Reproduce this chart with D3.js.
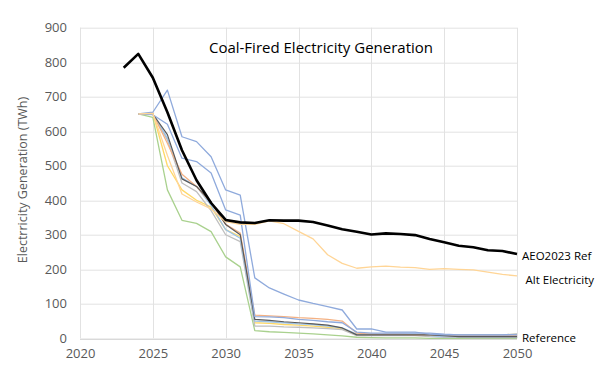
<!DOCTYPE html>
<html>
<head>
<meta charset="utf-8">
<script src="https://cdn.jsdelivr.net/npm/d3@7"></script>
<style>
  body { margin: 0; background: #fff; }
  svg { display: block; font-family: "Open Sans", "Liberation Sans", sans-serif; }
</style>
</head>
<body>
<div id="chart"></div>
<script>
// years on the x axis
const refYears = d3.range(2023, 2051);      // AEO line starts a year earlier
const scenYears = d3.range(2024, 2051);
const xTicks = [2020, 2025, 2030, 2035, 2040, 2045, 2050];
const yTicks = [0, 100, 200, 300, 400, 500, 600, 700, 800, 900];

// TWh
const aeo2023Ref = [784, 824, 755, 655, 545, 458, 392, 343, 336, 334, 342, 341, 341, 337, 327, 316, 309, 301, 304, 302, 299, 288, 278, 268, 264, 255, 253, 244];
const altElectricity = [650, 652, 530, 418, 395, 375, 338, 330, 330, 340, 332, 310, 288, 242, 217, 203, 207, 209, 206, 205, 200, 202, 200, 198, 192, 185, 181];
const blueHigh = [650, 655, 719, 584, 570, 526, 430, 415, 175, 146, 128, 111, 101, 92, 82, 27, 27, 18, 18, 18, 12, 10, 10, 10, 10, 10, 12];
const blueMid = [650, 648, 620, 522, 512, 479, 372, 357, 63, 62, 60, 55, 52, 48, 45, 18, 15, 15, 15, 15, 15, 12, 10, 10, 10, 10, 10];
const salmon = [650, 650, 565, 475, 440, 392, 330, 305, 67, 65, 63, 60, 58, 55, 50, 15, 12, 12, 12, 10, 10, 8, 8, 8, 8, 8, 8];
const reference = [650, 650, 590, 462, 440, 395, 330, 300, 55, 52, 48, 45, 42, 38, 30, 10, 10, 10, 10, 10, 10, 8, 5, 5, 5, 5, 5];
const greyLine = [650, 650, 575, 450, 425, 370, 300, 280, 35, 35, 33, 32, 30, 28, 25, 8, 8, 8, 8, 8, 5, 3, 3, 2, 2, 2, 2];
const yellowLine = [650, 652, 500, 430, 400, 380, 315, 295, 45, 43, 40, 38, 35, 32, 28, 10, 10, 10, 10, 10, 10, 10, 10, 10, 10, 10, 12];
const greenLine = [650, 640, 430, 342, 333, 309, 236, 207, 22, 19, 17, 15, 13, 10, 7, 3, 2, 1, 1, 1, 0, 0, 0, 0, 0, 0, 0];
const lightBlue = [650, 650, 580, 465, 440, 385, 315, 290, 50, 48, 45, 42, 40, 35, 30, 12, 12, 12, 12, 12, 8, 5, 5, 5, 5, 5, 5];

// drawing order: background scenarios first, AEO on top
const series = [
  { name: 'green', years: scenYears, values: greenLine, color: '#a9d18e', width: 1.3 },
  { name: 'yellow', years: scenYears, values: yellowLine, color: '#ffd966', width: 1.3 },
  { name: 'grey', years: scenYears, values: greyLine, color: '#bfbfbf', width: 1.3 },
  { name: 'lightBlue', years: scenYears, values: lightBlue, color: '#9dc3e6', width: 1.3 },
  { name: 'salmon', years: scenYears, values: salmon, color: '#f4b183', width: 1.3 },
  { name: 'Reference', years: scenYears, values: reference, color: '#595959', width: 1.2 },
  { name: 'blueMid', years: scenYears, values: blueMid, color: '#8faadc', width: 1.3 },
  { name: 'blueHigh', years: scenYears, values: blueHigh, color: '#8faadc', width: 1.3 },
  { name: 'Alt Electricity', years: scenYears, values: altElectricity, color: '#ffd596', width: 1.3 },
  { name: 'AEO2023 Ref', years: refYears, values: aeo2023Ref, color: '#000000', width: 2.6 },
];

const width = 600, height = 373;
const margins = { top: 27.7, right: 83, left: 80, bottom: 34.7 };
const innerWidth = width - margins.left - margins.right;
const innerHeight = height - margins.top - margins.bottom;

const svg = d3.select('#chart').append('svg')
  .attr('width', width)
  .attr('height', height);

const g = svg.append('g')
  .attr('transform', `translate(${margins.left},${margins.top})`);

const xScale = d3.scaleLinear().domain([2020, 2050]).range([0, innerWidth]);
const yScale = d3.scaleLinear().domain([0, 900]).range([innerHeight, 0]);

// gridlines
g.append('g').selectAll('line.h')
  .data(yTicks)
  .join('line')
  .attr('x1', 0).attr('x2', innerWidth)
  .attr('y1', d => Math.round(yScale(d)) + 0.5)
  .attr('y2', d => Math.round(yScale(d)) + 0.5)
  .attr('stroke', d => d === 0 ? '#c8c8c8' : '#e2e2e2')
  .attr('stroke-width', 1);

g.append('g').selectAll('line.v')
  .data(xTicks)
  .join('line')
  .attr('x1', d => Math.round(xScale(d)) + 0.5)
  .attr('x2', d => Math.round(xScale(d)) + 0.5)
  .attr('y1', 0).attr('y2', innerHeight)
  .attr('stroke', '#e2e2e2')
  .attr('stroke-width', 1);

// axes (labels only, like the Excel look)
const yAxis = d3.axisLeft(yScale).tickValues(yTicks).tickSize(0).tickPadding(13);
const xAxis = d3.axisBottom(xScale).tickValues(xTicks).tickFormat(d3.format('d')).tickSize(0).tickPadding(10);

g.append('g').call(yAxis)
  .call(s => s.select('.domain').remove())
  .selectAll('text')
  .attr('font-size', 13)
  .attr('fill', '#595959')
  .attr('font-family', '"Open Sans", sans-serif');

g.append('g').attr('transform', `translate(0,${innerHeight})`).call(xAxis)
  .call(s => s.select('.domain').remove())
  .selectAll('text')
  .attr('font-size', 13)
  .attr('fill', '#595959')
  .attr('font-family', '"Open Sans", sans-serif');

// lines
const line = d3.line()
  .x(d => xScale(d[0]))
  .y(d => yScale(d[1]));

g.selectAll('path.line')
  .data(series)
  .join('path')
  .attr('class', 'line')
  .attr('fill', 'none')
  .attr('stroke', d => d.color)
  .attr('stroke-width', d => d.width)
  .attr('stroke-linejoin', 'round')
  .attr('d', d => line(d.years.map((y, i) => [y, d.values[i]])));

// end labels
const endLabels = [
  { text: 'AEO2023 Ref', dx: 5, dy: 255 },
  { text: 'Alt Electricity', dx: 8.5, dy: 279 },
  { text: 'Reference', dx: 5, dy: 337 },
];
svg.append('g').selectAll('text')
  .data(endLabels)
  .join('text')
  .attr('x', d => margins.left + xScale(2050) + d.dx)
  .attr('y', d => d.dy)
  .attr('dominant-baseline', 'central')
  .attr('font-size', 11.5)
  .attr('fill', '#000')
  .text(d => d.text);

// title
svg.append('text')
  .attr('x', 321)
  .attr('y', 53)
  .attr('text-anchor', 'middle')
  .attr('font-size', 15)
  .attr('fill', '#000')
  .text('Coal-Fired Electricity Generation');

// y axis title (typo kept from original)
svg.append('text')
  .attr('transform', 'translate(27,180) rotate(-90)')
  .attr('text-anchor', 'middle')
  .attr('font-size', 12.5)
  .attr('fill', '#595959')
  .text('Electrricity Generation (TWh)');
</script>
</body>
</html>
